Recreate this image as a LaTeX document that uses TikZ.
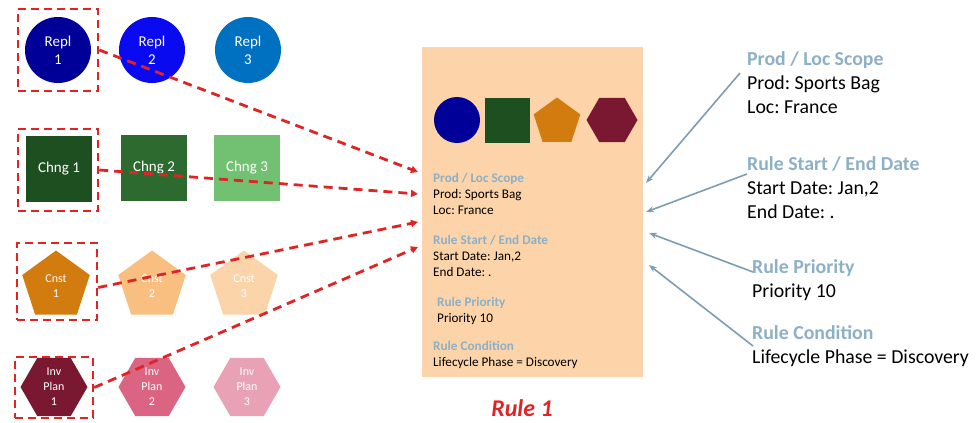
\documentclass[tikz,border=0pt]{standalone}
\usepackage{fontspec}
\setmainfont{Carlito}
\usetikzlibrary{shapes.geometric,arrows.meta}

\definecolor{replA}{HTML}{000099}
\definecolor{replB}{HTML}{0A0AF0}
\definecolor{replC}{HTML}{0070C0}
\definecolor{chngA}{HTML}{1E4F20}
\definecolor{chngB}{HTML}{2D6A2F}
\definecolor{chngC}{HTML}{72C072}
\definecolor{cnstA}{HTML}{D27B0E}
\definecolor{cnstB}{HTML}{F9BF80}
\definecolor{cnstC}{HTML}{FBD4AA}
\definecolor{invA}{HTML}{7A1832}
\definecolor{invB}{HTML}{DA6482}
\definecolor{invC}{HTML}{E9A2B5}
\definecolor{cardfill}{HTML}{FDD4A9}
\definecolor{dashred}{HTML}{E02424}
\definecolor{titleblue}{HTML}{8CB0C6}
\definecolor{arrowgray}{HTML}{7D9DB2}

\newcommand{\ttl}[1]{\textcolor{titleblue}{\bfseries #1}}
\frenchspacing

\begin{document}
\begin{tikzpicture}[x=1pt,y=-1pt,
	shapetxt/.style={text=white, align=center, inner sep=0pt, font=\fontsize{15}{18}\selectfont},
	smalltxt/.style={shapetxt, font=\fontsize{12}{15}\selectfont},
	selbox/.style={draw=dashred, line width=2.5pt, dash pattern=on 8pt off 5pt},
	pent/.style={regular polygon, regular polygon sides=5},
	hexa/.style={regular polygon, regular polygon sides=6},
	cardtxt/.style={anchor=west, align=left, inner sep=0pt, font=\fontsize{13.2}{16}\selectfont},
	sidetxt/.style={anchor=west, align=left, inner sep=0pt, font=\fontsize{19.8}{24}\selectfont},
	pick/.style={dashred, line width=2.8pt, dash pattern=on 9pt off 6pt, -{Triangle[length=7pt,width=7pt]}},
	infoarrow/.style={arrowgray, line width=1.6pt, -{Stealth[length=8pt,width=6pt]}}]
	\useasboundingbox (0,0) rectangle (980,423);
	% option shapes
	\node[circle, fill=replA, minimum size=66, shapetxt] (repl1) at (58,50) {Repl\\1};
	\node[circle, fill=replB, minimum size=66, shapetxt] (repl2) at (152,50) {Repl\\2};
	\node[circle, fill=replC, minimum size=66, shapetxt] (repl3) at (248,50) {Repl\\3};
	\node[fill=chngA, minimum size=66, shapetxt] (chng1) at (59,169) {Chng 1};
	\node[fill=chngB, minimum size=66, shapetxt] (chng2) at (154,168) {Chng 2};
	\node[fill=chngC, minimum size=66, shapetxt] (chng3) at (247,168) {Chng 3};
	\node[pent, fill=cnstA, minimum size=71, smalltxt] (cnst1) at (56,286) {Cnst\\1};
	\node[pent, fill=cnstB, minimum size=71, smalltxt] (cnst2) at (152,286) {Cnst\\2};
	\node[pent, fill=cnstC, minimum size=71, smalltxt] (cnst3) at (244,286) {Cnst\\3};
	\node[hexa, fill=invA, minimum size=67, smalltxt] (inv1) at (54,387) {Inv\\Plan\\1};
	\node[hexa, fill=invB, minimum size=67, smalltxt] (inv2) at (152,387) {Inv\\Plan\\2};
	\node[hexa, fill=invC, minimum size=67, smalltxt] (inv3) at (247,387) {Inv\\Plan\\3};
	% selected ones
	\node[selbox, minimum width=80, minimum height=82] (sel1) at (58,50) {};
	\node[selbox, minimum width=80, minimum height=82] (sel2) at (58,170) {};
	\node[selbox, minimum width=80, minimum height=77] (sel3) at (57,281.5) {};
	\node[selbox, minimum width=78, minimum height=61] (sel4) at (54,387.5) {};
	% rule card
	\node[fill=cardfill, minimum width=221, minimum height=330, anchor=north west, inner sep=0pt] (card) at (422,47) {};
	\node[circle, fill=replA, minimum size=46] (crepl) at (457,120) {};
	\node[fill=chngA, minimum size=45, inner sep=0pt] (cchng) at (507,120) {};
	\node[pent, fill=cnstA, minimum size=49, inner sep=0pt] (ccnst) at (557,122) {};
	\node[hexa, fill=invA, minimum size=51, inner sep=0pt] (cinv) at (612,120) {};
	\node[cardtxt] (cscope) at (433,194) {\ttl{Prod / Loc Scope}\\Prod: Sports Bag\\Loc: France};
	\node[cardtxt] (cdate) at (433,256) {\ttl{Rule Start / End Date}\\Start Date: Jan,2\\End Date: .};
	\node[cardtxt] (cprio) at (437,311) {\ttl{Rule Priority}\\Priority 10};
	\node[cardtxt] (ccond) at (433,355) {\ttl{Rule Condition}\\Lifecycle Phase = Discovery};
	\node[text=dashred, font=\fontsize{24}{28}\selectfont\bfseries\itshape] (title) at (522,408) {Rule 1};
	% side notes
	\node[sidetxt] (rscope) at (747,83) {\ttl{Prod / Loc Scope}\\Prod: Sports Bag\\Loc: France};
	\node[sidetxt] (rdate) at (747,188) {\ttl{Rule Start / End Date}\\Start Date: Jan,2\\End Date: .};
	\node[sidetxt] (rprio) at (752,280) {\ttl{Rule Priority}\\Priority 10};
	\node[sidetxt] (rcond) at (752,346) {\ttl{Rule Condition}\\Lifecycle Phase = Discovery};
	% connectors
	\coordinate (in1) at (418,172);
	\coordinate (in2) at (418,194);
	\coordinate (in3) at (418,222);
	\coordinate (in4) at (418,247);
	\draw[pick] (sel1.east) -- (in1);
	\draw[pick] (sel2.east) -- (in2);
	\draw[pick] ([yshift=-6pt]sel3.east) -- (in3);
	\draw[pick] (sel4.east) -- (in4);
	\coordinate (out1) at (646,183);
	\coordinate (out2) at (646,212);
	\coordinate (out3) at (649,233);
	\coordinate (out4) at (649,265);
	\draw[infoarrow] ([xshift=-7pt,yshift=10pt]rscope.west) -- (out1);
	\draw[infoarrow] ([yshift=14pt]rdate.west) -- (out2);
	\draw[infoarrow] ([xshift=1pt,yshift=8pt]rprio.west) -- (out3);
	\draw[infoarrow] ([xshift=1pt]rcond.west) -- (out4);
\end{tikzpicture}
\end{document}
